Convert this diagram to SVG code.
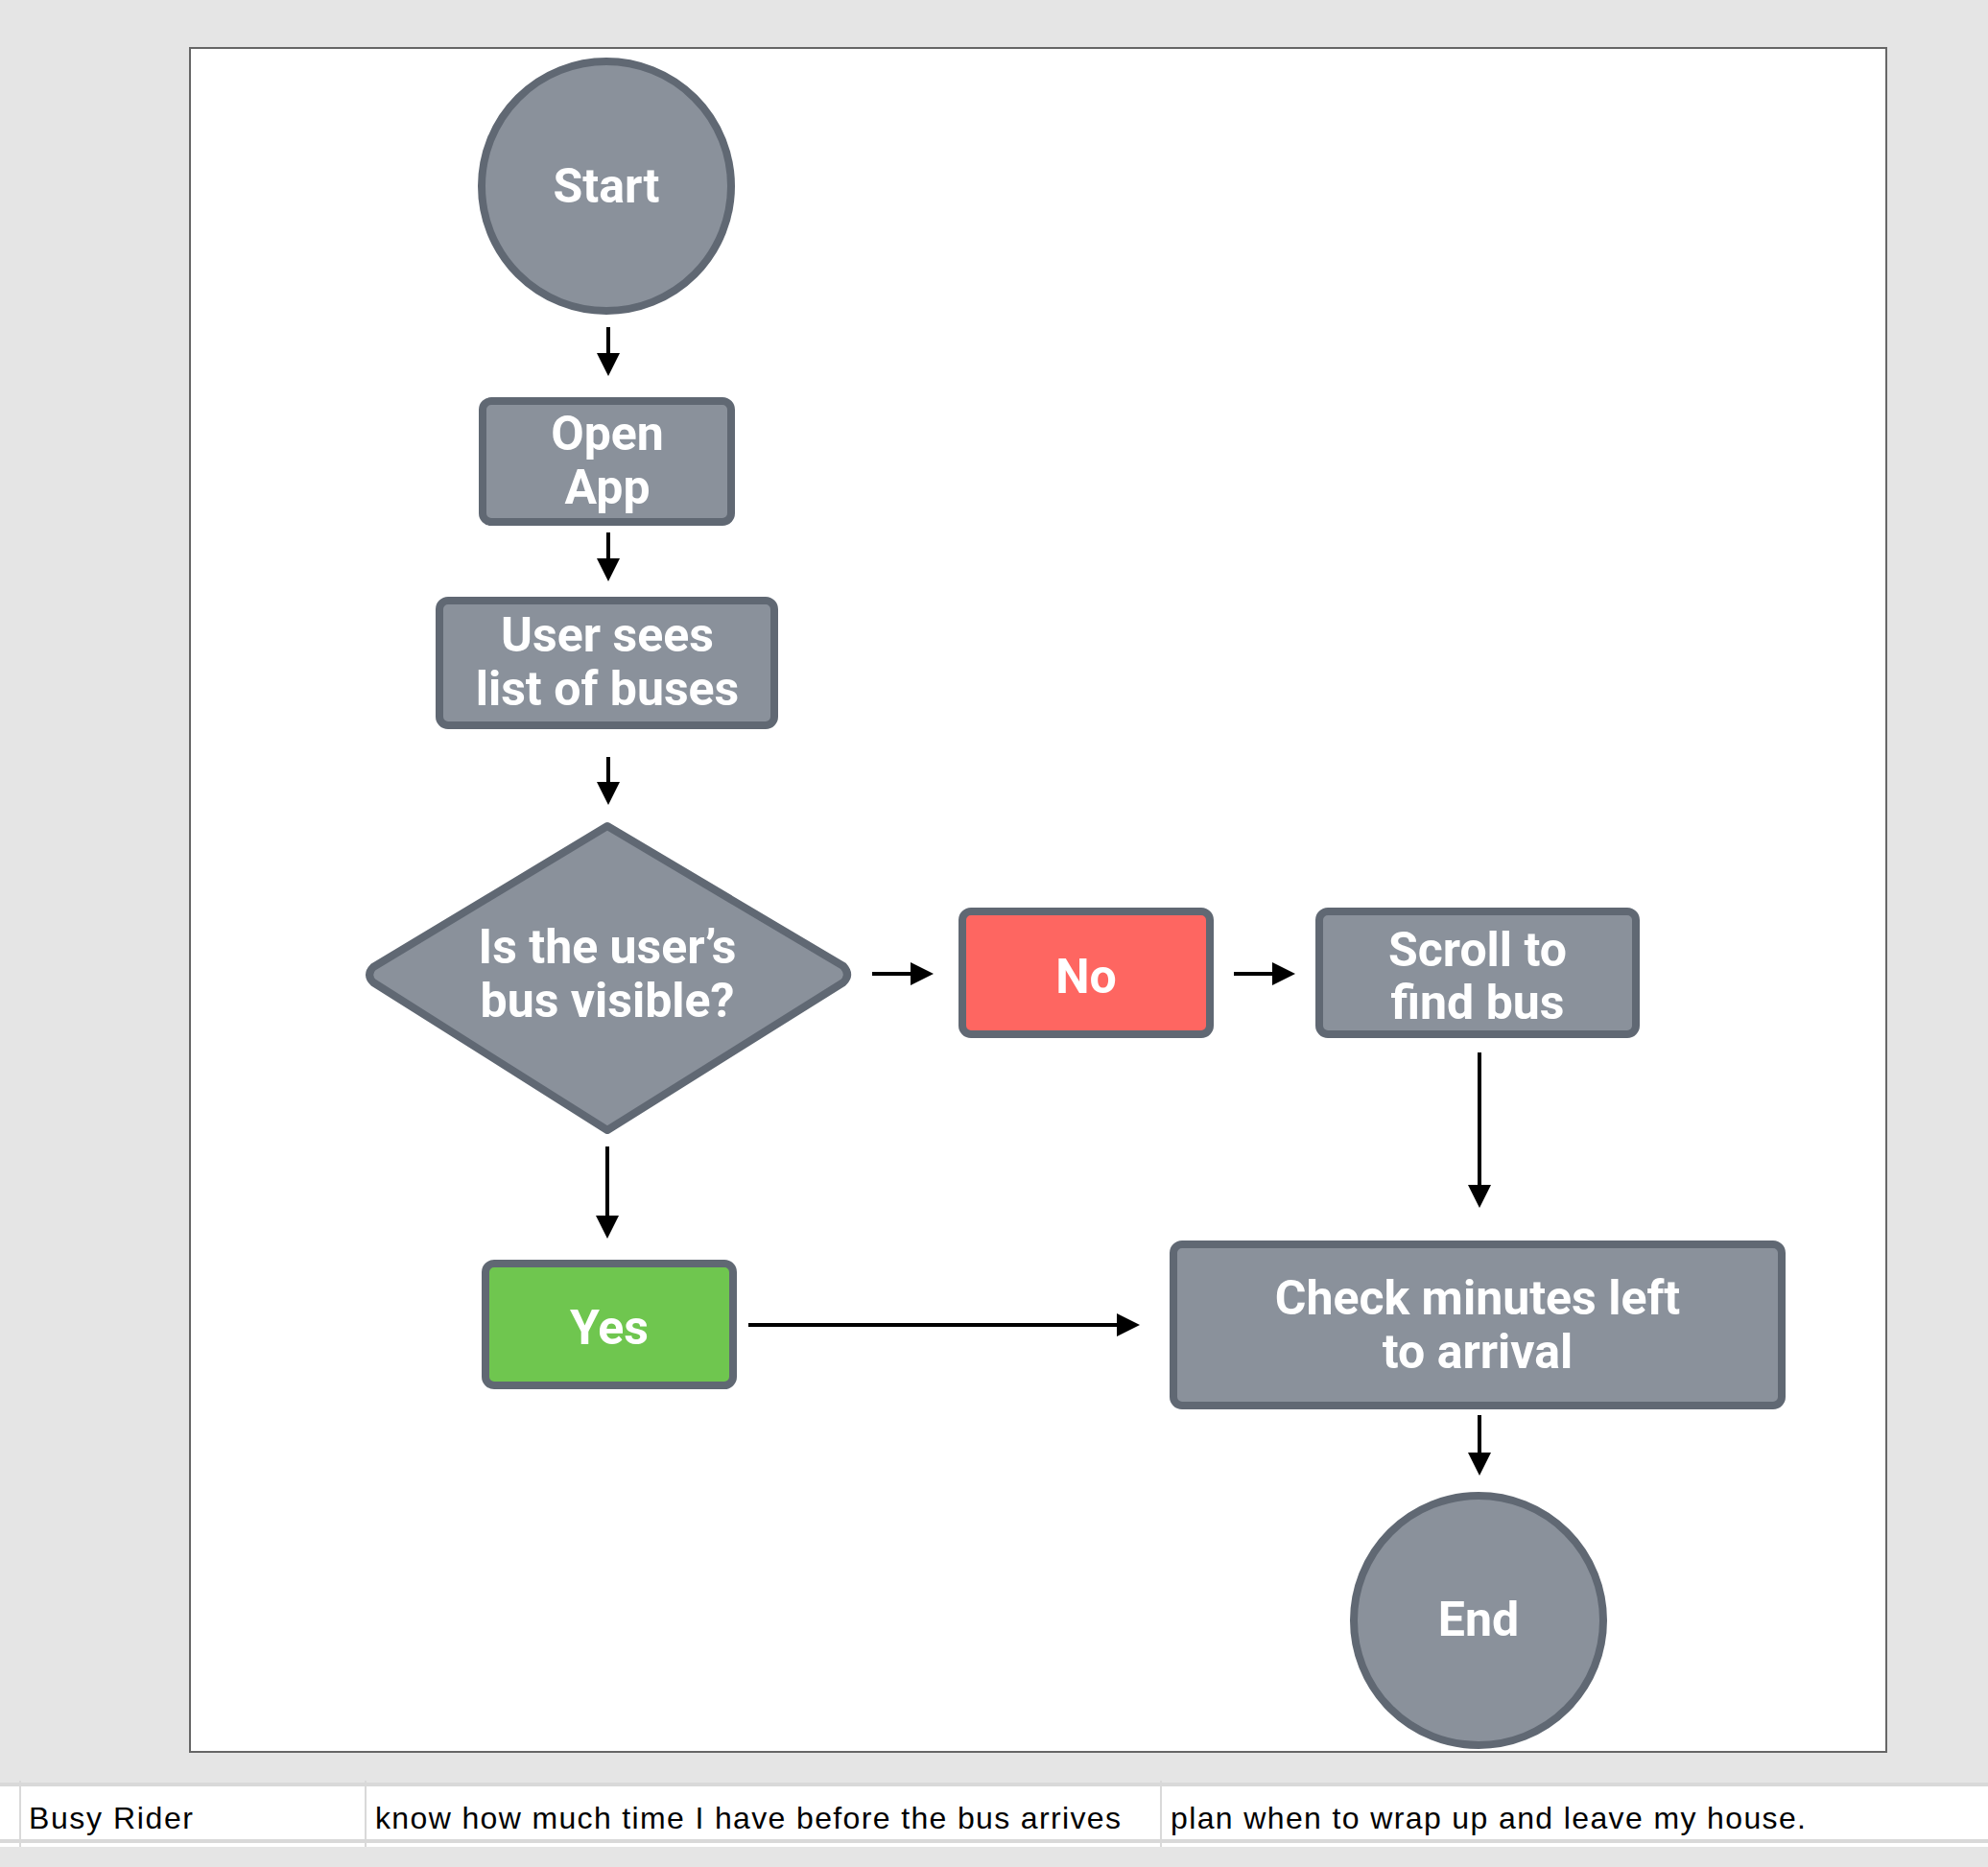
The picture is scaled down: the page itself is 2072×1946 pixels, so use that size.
<svg xmlns="http://www.w3.org/2000/svg" width="2072" height="1946" viewBox="0 0 2072 1946">
<style>
.n{fill:#8a919b;stroke:#606873;stroke-width:8}
.t{fill:#fff;font-family:Roboto,"Liberation Sans",sans-serif;font-weight:bold;font-size:50px;text-anchor:middle}
.c line{stroke:#000;stroke-width:4;marker-end:url(#a)}
.tb{font-family:"Liberation Sans",Arial,sans-serif;font-size:32px;fill:#000}
</style>
<defs><marker id="a" markerWidth="7" markerHeight="7" refX="5" refY="3" orient="auto" markerUnits="strokeWidth"><path d="M0,0L6,3L0,6z" fill="#000"/></marker></defs>
<rect width="2072" height="1946" fill="#e5e5e5"/>
<rect x="198" y="50" width="1768" height="1776" fill="#fff" stroke="#666" stroke-width="2"/>
<g id="table">
<rect x="0" y="1862" width="2072" height="55" fill="#fff"/>
<line x1="0" y1="1860" x2="2072" y2="1860" stroke="#d9d9d9" stroke-width="4"/>
<line x1="0" y1="1919" x2="2072" y2="1919" stroke="#d9d9d9" stroke-width="4"/>
<rect x="0" y="1921" width="2072" height="4" fill="#fff"/>
<line x1="21" y1="1856" x2="21" y2="1925" stroke="#d9d9d9" stroke-width="2"/>
<line x1="381" y1="1856" x2="381" y2="1925" stroke="#d9d9d9" stroke-width="2"/>
<line x1="1210" y1="1856" x2="1210" y2="1925" stroke="#d9d9d9" stroke-width="2"/>
<text class="tb" x="30" y="1906" textLength="171">Busy Rider</text>
<text class="tb" x="391" y="1906" textLength="777">know how much time I have before the bus arrives</text>
<text class="tb" x="1220" y="1906" textLength="662">plan when to wrap up and leave my house.</text>
</g>
<g class="c" id="connectors">
<line x1="634" y1="341" x2="634" y2="388"/>
<line x1="634" y1="555" x2="634" y2="602"/>
<line x1="634" y1="789" x2="634" y2="835"/>
<line x1="909" y1="1015" x2="969" y2="1015"/>
<line x1="1286" y1="1015" x2="1346" y2="1015"/>
<line x1="1542" y1="1097" x2="1542" y2="1255"/>
<line x1="633" y1="1195" x2="633" y2="1287"/>
<line x1="780" y1="1381" x2="1184" y2="1381"/>
<line x1="1542" y1="1475" x2="1542" y2="1534"/>
</g>
<g id="start"><circle class="n" cx="632" cy="194" r="130"/><text class="t" x="632" y="211">Start</text></g>
<g id="open"><rect class="n" x="503" y="418" width="259" height="126" rx="9"/><text class="t" x="633" y="469">Open</text><text class="t" x="633" y="525">App</text></g>
<g id="sees"><rect class="n" x="458" y="626" width="349" height="130" rx="9"/><text class="t" x="633" y="679">User sees</text><text class="t" x="633" y="735">list of buses</text></g>
<g id="decision"><path class="n" d="M633,861L879,1007Q887,1016 879,1024L633,1178L389,1024Q381,1016 389,1008Z" stroke-linejoin="round"/><text class="t" x="633" y="1004">Is the user’s</text><text class="t" x="633" y="1060">bus visible?</text></g>
<g id="no"><rect class="n" x="1003" y="950" width="258" height="128" rx="9" style="fill:#fe6661"/><text class="t" x="1132" y="1035">No</text></g>
<g id="scroll"><rect class="n" x="1375" y="950" width="330" height="128" rx="9"/><text class="t" x="1540" y="1007">Scroll to</text><text class="t" x="1540" y="1062">find bus</text></g>
<g id="yes"><rect class="n" x="506" y="1317" width="258" height="127" rx="9" style="fill:#6fc64f"/><text class="t" x="635" y="1401">Yes</text></g>
<g id="check"><rect class="n" x="1223" y="1297" width="634" height="168" rx="9"/><text class="t" x="1540" y="1370">Check minutes left</text><text class="t" x="1540" y="1426">to arrival</text></g>
<g id="end"><circle class="n" cx="1541" cy="1689" r="130"/><text class="t" x="1541" y="1705">End</text></g>
</svg>
